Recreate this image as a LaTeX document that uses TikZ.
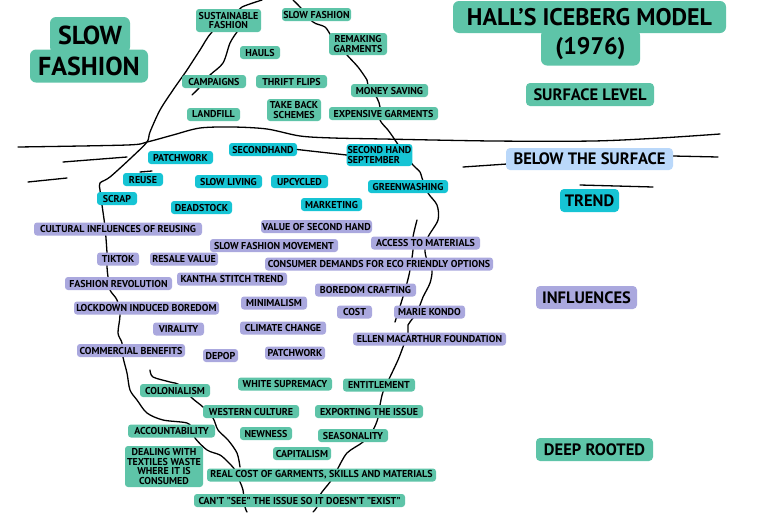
\documentclass[tikz,border=0pt]{standalone}
\usepackage{fontspec}
\setmainfont{PT Sans}
\usepackage{xcolor}
\usepackage{tikz}
\definecolor{cteal}{RGB}{94,196,168}
\definecolor{ccyan}{RGB}{22,196,212}
\definecolor{cviolet}{RGB}{170,168,222}
\definecolor{cpale}{RGB}{186,216,250}

\begin{document}
\begin{tikzpicture}[
    x=1pt, y=-1pt,
    tag/.style={rounded corners=3pt, inner sep=1pt, minimum height=13pt, align=center, font=\fontsize{10}{9.5}\selectfont\bfseries},
    surf/.style={tag, fill=cteal},
    trend/.style={tag, fill=ccyan},
    infl/.style={tag, fill=cviolet},
    deep/.style={tag, fill=cteal},
    head/.style={rounded corners=4pt, inner sep=2pt, minimum height=23pt, font=\fontsize{16.5}{16.5}\selectfont\bfseries},
    big/.style={rounded corners=6pt, inner sep=1pt, font=\fontsize{26}{26}\selectfont\bfseries},
    berg/.style={line width=1.3pt, line cap=round, line join=round},
]
    \fill[white] (0,0) rectangle (768,512);
    \useasboundingbox (0,0) rectangle (768,512);

    % water
    \draw[berg] plot[smooth, tension=0.5] coordinates {(18,147) (127,145) (147,142) (173,135) (200,128) (233,127) (267,129) (300,136) (333,138) (383,139) (493,141) (593,141) (660,138) (720,134)};
    \draw[berg] (63,162) -- (127,157);
    \draw[berg] (28,182) -- (67,178);
    \draw[berg] (463,167) -- (507,164);
    \draw[berg] (673,156) -- (718,157);
    \draw[berg] (580,185) -- (653,187);

    % iceberg
    \draw[berg] plot[smooth, tension=0.5] coordinates {(262,0) (242,7) (235,14) (212,32) (200,50) (187,70) (180,80) (173,90) (160,110) (150,132) (147,142) (132,157) (110,177) (100,183) (100,190) (102,205) (105,227) (107,253) (107,267) (108,277) (110,290) (117,300) (120,315) (118,333) (122,343) (123,357) (127,373) (130,390) (137,400) (147,413) (163,420) (187,423) (193,430) (195,438) (207,450) (220,455) (228,462) (235,470) (240,482) (243,490) (245,507) (247,512)};
    \draw[berg] plot[smooth, tension=0.5] coordinates {(293,0) (300,7) (313,22) (325,27) (332,37) (347,55) (358,67) (367,80) (368,85) (377,98) (380,107) (380,120) (388,130) (393,137) (397,143) (405,155) (413,165) (420,172) (422,178) (428,193) (437,205) (438,220) (428,237) (425,250) (427,260) (432,270) (430,283) (423,297) (420,305) (413,318) (408,325) (408,333) (403,347) (398,360) (390,377) (383,392) (380,405) (378,418) (373,430) (363,442) (347,453) (337,470) (330,482) (320,495) (317,507) (313,512)};
    \draw[berg] plot[smooth, tension=0.5] coordinates {(237,32) (230,43) (223,63) (210,75) (200,87) (192,95)};
    \draw[berg] plot[smooth, tension=0.5] coordinates {(150,370) (153,377) (170,382) (180,385) (192,398) (203,407) (213,418) (218,430) (228,440) (237,453) (240,467)};
    \draw[berg] plot[smooth, tension=0.5] coordinates {(417,220) (413,237) (413,250) (410,270) (407,283) (402,300) (395,322)};
    \draw[berg] (140,172) -- (152,171);

    \node[big, fill=cteal, minimum width=118pt, minimum height=33pt] (slowbot) at (89,66) {};
    \node[big, fill=cteal, minimum width=80pt, minimum height=36pt] (slowtop) at (90,35) {SLOW};
    \node[big] (slowlbl) at (89,66) {FASHION};

    \node[big, fill=cteal, minimum width=99pt, minimum height=36pt] (yearbox) at (590.5,47.5) {};
    \node[big, fill=cteal, minimum width=273pt, minimum height=32pt, font=\fontsize{24}{24}\selectfont\bfseries] (title) at (589.5,17) {HALL'S ICEBERG MODEL};
    \node[big, font=\fontsize{24}{24}\selectfont\bfseries] (year) at (590.5,48.5) {(1976)};

    \node[head, fill=cteal, minimum width=128pt] (surflevel) at (590,94.5) {SURFACE LEVEL};
    \node[head, fill=cpale, minimum width=167pt, minimum height=22pt] (below) at (589.5,159) {BELOW THE SURFACE};
    \node[head, fill=ccyan, minimum width=59pt] (trendhd) at (589.5,200.5) {TREND};
    \node[head, fill=cviolet, minimum width=101pt] (inflhd) at (586.5,297.5) {INFLUENCES};
    \node[head, fill=cteal, minimum width=117pt] (deephd) at (594.5,449.5) {DEEP ROOTED};

    \node[surf, minimum width=65pt, minimum height=23pt] (sustain) at (228.5,20.5) {SUSTAINABLE\\FASHION};
    \node[surf, minimum width=69pt] (slowfash) at (316.5,14.5) {SLOW FASHION};
    \node[surf, minimum width=40pt] (hauls) at (260,52.5) {HAULS};
    \node[surf, minimum width=58pt, minimum height=22pt] (remaking) at (358,44) {REMAKING\\GARMENTS};
    \node[surf, minimum width=64pt] (campaigns) at (214,81.5) {CAMPAIGNS};
    \node[surf, minimum width=71pt] (thrift) at (291.5,81.5) {THRIFT FLIPS};
    \node[surf, minimum width=77pt] (money) at (389.5,90.5) {MONEY SAVING};
    \node[surf, minimum width=53pt] (landfill) at (213.5,114.5) {LANDFILL};
    \node[surf, minimum width=54pt, minimum height=22pt] (takeback) at (294,110) {TAKE BACK\\SCHEMES};
    \node[surf, minimum width=109pt] (expensive) at (383.5,113.5) {EXPENSIVE GARMENTS};

    \node[trend, minimum width=65pt] (patchtr) at (180.5,157.5) {PATCHWORK};
    \node[trend, minimum width=68pt] (secondhand) at (263,149.5) {SECONDHAND};
    \node[trend, minimum width=65pt, minimum height=22pt, align=left] (september) at (379.5,155) {SECOND HAND\\SEPTEMBER};
    \node[trend, minimum width=40pt] (reuse) at (143,179.5) {REUSE};
    \node[trend, minimum width=67pt] (slowliving) at (228.5,181.5) {SLOW LIVING};
    \node[trend, minimum width=57pt] (upcycled) at (299.5,181.5) {UPCYCLED};
    \node[trend, minimum width=80pt] (greenwash) at (408,186.5) {GREENWASHING};
    \node[trend, minimum width=40pt] (scrap) at (117,198.5) {SCRAP};
    \node[trend, minimum width=61pt] (deadstock) at (201.5,207.5) {DEADSTOCK};
    \node[trend, minimum width=61pt] (marketing) at (331.5,204.5) {MARKETING};

    \node[infl, minimum width=168pt] (cultural) at (118,229) {CULTURAL INFLUENCES OF REUSING};
    \node[infl, minimum width=111pt] (valuesec) at (316.5,226.5) {VALUE OF SECOND HAND};
    \node[infl, minimum width=128pt] (sfmove) at (274,245.5) {SLOW FASHION MOVEMENT};
    \node[infl, minimum width=109pt] (access) at (425.5,243) {ACCESS TO MATERIALS};
    \node[infl, minimum width=42pt] (tiktok) at (118,259) {TIKTOK};
    \node[infl, minimum width=68pt] (resale) at (184,259) {RESALE VALUE};
    \node[infl, minimum width=228pt] (consumer) at (379,264) {CONSUMER DEMANDS FOR ECO FRIENDLY OPTIONS};
    \node[infl, minimum width=107pt] (fashrev) at (118.5,283.5) {FASHION REVOLUTION};
    \node[infl, minimum width=110pt] (kantha) at (232,279) {KANTHA STITCH TREND};
    \node[infl, minimum width=101pt] (boredom) at (365.5,290) {BOREDOM CRAFTING};
    \node[infl, minimum width=145pt] (lockdown) at (146.5,308) {LOCKDOWN INDUCED BOREDOM};
    \node[infl, minimum width=66pt] (minimal) at (274,303) {MINIMALISM};
    \node[infl, minimum width=35pt] (cost) at (354.5,312) {COST};
    \node[infl, minimum width=71pt] (marie) at (429.5,312) {MARIE KONDO};
    \node[infl, minimum width=51pt] (virality) at (178.5,329) {VIRALITY};
    \node[infl, minimum width=86pt] (climate) at (283,328) {CLIMATE CHANGE};
    \node[infl, minimum width=153pt] (ellen) at (429.5,339) {ELLEN MACARTHUR FOUNDATION};
    \node[infl, minimum width=108pt] (commercial) at (131,350.5) {COMMERCIAL BENEFITS};
    \node[infl, minimum width=35pt] (depop) at (220.5,355.5) {DEPOP};
    \node[infl, minimum width=60pt] (patchinf) at (295,353) {PATCHWORK};

    \node[deep, minimum width=94pt] (whitesup) at (285,384) {WHITE SUPREMACY};
    \node[deep, minimum width=72pt] (entitle) at (379,385) {ENTITLEMENT};
    \node[deep, minimum width=70pt] (colonial) at (175,390.5) {COLONIALISM};
    \node[deep, minimum width=96pt] (western) at (251,411.5) {WESTERN CULTURE};
    \node[deep, minimum width=108pt] (exporting) at (369,411.5) {EXPORTING THE ISSUE};
    \node[deep, minimum width=87pt] (account) at (171.5,431) {ACCOUNTABILITY};
    \node[deep, minimum width=52pt] (newness) at (266,433.5) {NEWNESS};
    \node[deep, minimum width=70pt] (seasonal) at (353,435.5) {SEASONALITY};
    \node[deep, minimum width=58pt] (capital) at (302,453.5) {CAPITALISM};
    \node[deep, minimum width=78pt, minimum height=41pt] (dealing) at (164,466.5) {DEALING WITH\\TEXTILES WASTE\\WHERE IT IS\\CONSUMED};
    \node[deep, minimum width=229pt] (realcost) at (321.5,475) {REAL COST OF GARMENTS, SKILLS AND MATERIALS};
    \node[deep, minimum width=211pt] (cant) at (299.5,500.5) {CAN'T "SEE" THE ISSUE SO IT DOESN'T "EXIST"};

    \draw[berg] (secondhand.east) -- (september.west);
\end{tikzpicture}
\end{document}
